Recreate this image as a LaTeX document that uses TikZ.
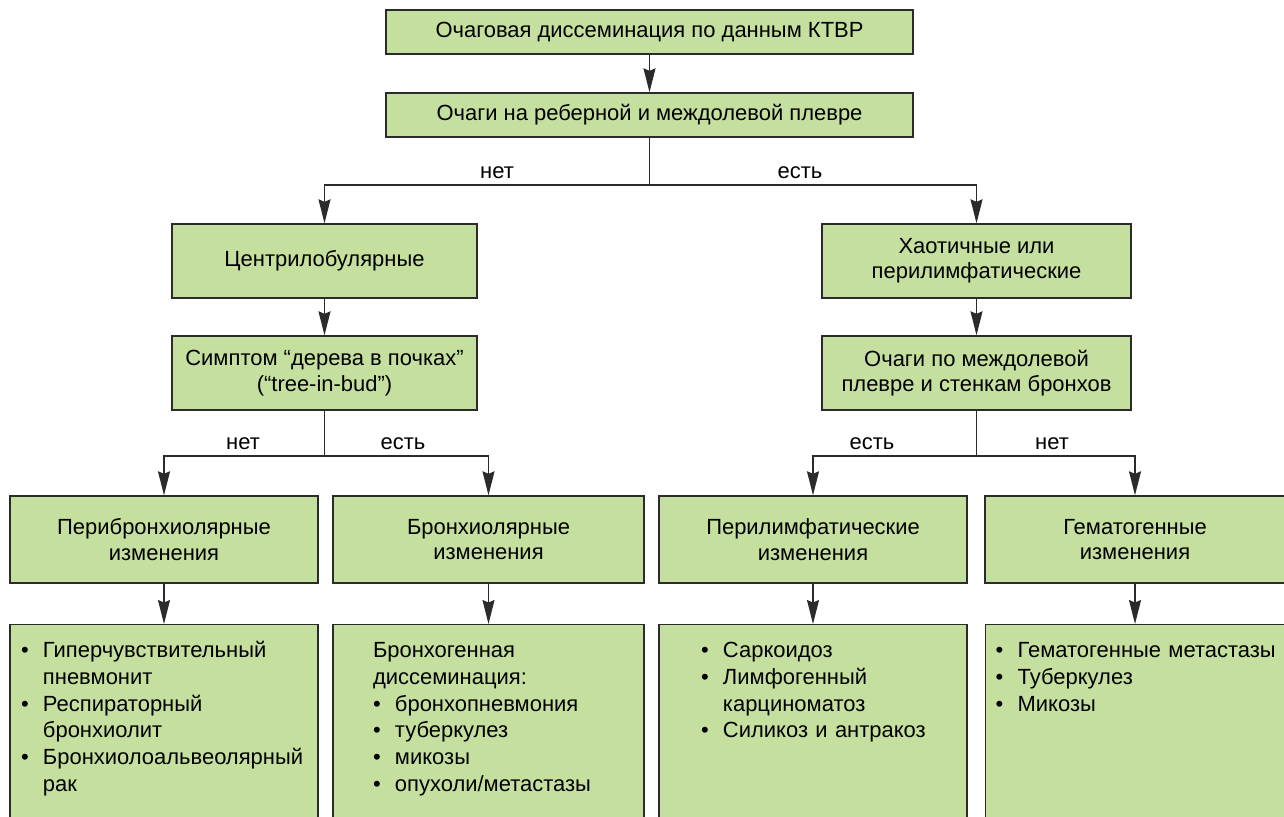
\documentclass[tikz,border=0pt]{standalone}
\usepackage{fontspec}
\setmainfont{Liberation Sans}
\usetikzlibrary{arrows.meta}

\definecolor{boxgreen}{HTML}{C5DF9E}
\definecolor{linegray}{HTML}{2B2B2B}
\newcommand\itm[1]{\noindent\hangindent=1em\hangafter=1\makebox[1em][l]{\textbullet}#1\par}

\begin{document}
\begin{tikzpicture}[x=0.02cm,y=-0.02cm,
  box/.style={draw=linegray,fill=boxgreen,line width=0.8pt,align=center,
    font=\fontsize{12.5}{14.4}\selectfont,inner sep=2pt},
  listbox/.style={box,anchor=north,align=left,inner xsep=0.2cm,inner ysep=0.36cm,
    text height=0.3cm,text depth=4cm,font=\fontsize{12.5}{15.2}\selectfont},
  arr/.style={draw=linegray,line width=0.8pt,-{Stealth[length=0.48cm,width=0.24cm,inset=0.05cm]}},
  lbl/.style={font=\fontsize{12.5}{14}\selectfont}]
\useasboundingbox (0,0) rectangle (1284,816);
\clip (0,0) rectangle (1284,816);

\node[box,minimum width=10.54cm,minimum height=0.88cm] (kt) at (649.5,32) {Очаговая диссеминация по данным КТВР};
\node[box,minimum width=10.54cm,minimum height=0.88cm] (pl) at (649.5,115) {Очаги на реберной и междолевой плевре};

\node[box,minimum width=6.1cm,minimum height=1.48cm] (cl) at (324.5,261) {Центрилобулярные};
\node[box,minimum width=6.18cm,minimum height=1.48cm] (ch) at (976.5,261) {Хаотичные или\\перилимфатические};
\node[box,minimum width=6.1cm,minimum height=1.48cm] (tib) at (324.5,373) {Симптом “дерева в почках”\\(“tree-in-bud”)};
\node[box,minimum width=6.18cm,minimum height=1.48cm] (mp) at (976.5,373) {Очаги по междолевой\\плевре и стенкам бронхов};

\node[box,minimum width=6.16cm,minimum height=1.74cm] (pb) at (164,539.5) {Перибронхиолярные\\изменения};
\node[box,minimum width=6.22cm,minimum height=1.74cm] (br) at (488.5,539.5) {Бронхиолярные\\изменения};
\node[box,minimum width=6.16cm,minimum height=1.74cm] (plm) at (813,539.5) {Перилимфатические\\изменения};
\node[box,minimum width=6.0cm,minimum height=1.74cm] (gm) at (1135,539.5) {Гематогенные\\изменения};

\node[listbox,text width=5.76cm] (dA) at (164,624) {\leftskip=0.02cm
  \itm{Гиперчувствительный\newline пневмонит}
  \itm{Респираторный\newline бронхиолит}
  \itm{Бронхиолоальвеолярный\newline рак}};
\node[listbox,text width=5.82cm] (dB) at (488.5,624) {\leftskip=0.6cm
  \noindent Бронхогенная\newline диссеминация:\par
  \itm{бронхопневмония}
  \itm{туберкулез}
  \itm{микозы}
  \itm{опухоли/метастазы}};
\node[listbox,text width=5.76cm] (dC) at (813,624) {\leftskip=0.64cm
  \itm{Саркоидоз}
  \itm{Лимфогенный\newline карциноматоз}
  \itm{Силикоз и антракоз}};
\node[listbox,anchor=north west,text width=6.2cm] (dD) at (985,624) {\leftskip=0cm
  \itm{Гематогенные метастазы}
  \itm{Туберкулез}
  \itm{Микозы}};

\node[lbl] (n1) at (497,173) {нет};
\node[lbl] (y1) at (800,173) {есть};
\node[lbl] (n2) at (243,444) {нет};
\node[lbl] (y2) at (403,444) {есть};
\node[lbl] (y3) at (872,444) {есть};
\node[lbl] (n3) at (1052,444) {нет};

\coordinate (j1) at (649.5,185);
\coordinate (j2) at (324.5,456);
\coordinate (j3) at (976.5,456);

\draw[arr] (kt) -- (pl);
\draw[arr] (pl.south) -- (j1) -| (cl.north);
\draw[arr] (j1) -| (ch.north);
\draw[arr] (cl) -- (tib);
\draw[arr] (ch) -- (mp);
\draw[arr] (tib.south) -- (j2) -| (pb.north);
\draw[arr] (j2) -| (br.north);
\draw[arr] (mp.south) -- (j3) -| (plm.north);
\draw[arr] (j3) -| (gm.north);
\foreach \a/\b in {pb/dA,br/dB,plm/dC}
  \draw[arr] (\a.south) -- (\b.north);
\draw[arr] (gm.south) -- (gm.south |- dD.north);
\end{tikzpicture}
\end{document}
